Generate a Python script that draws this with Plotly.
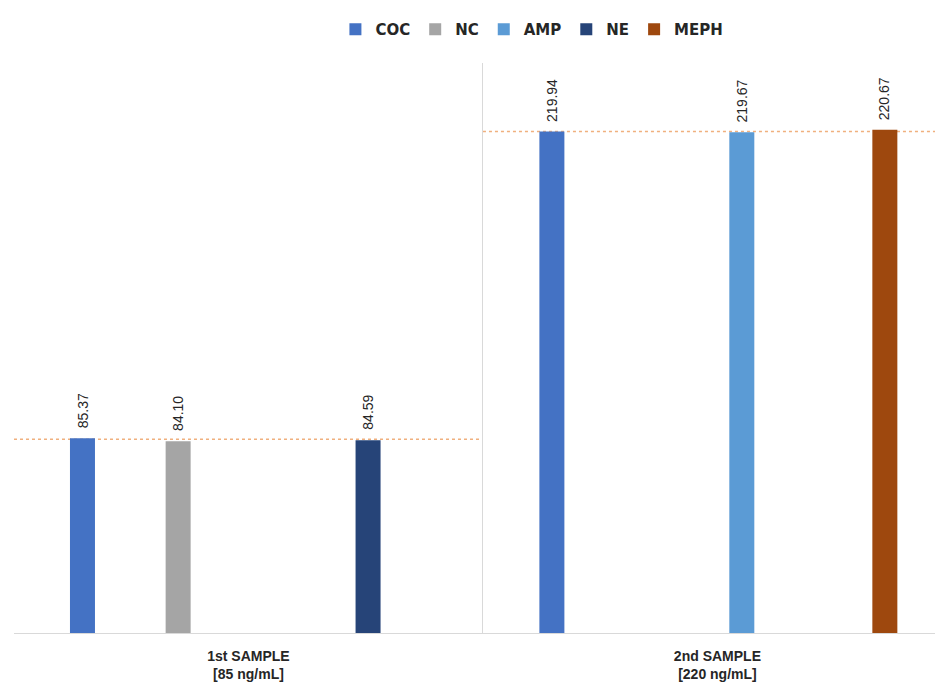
import plotly.graph_objects as go

categories = ["1st SAMPLE<br>[85 ng/mL]", "2nd SAMPLE<br>[220 ng/mL]"]
targets = [85, 220]
series_names = ["COC", "NC", "AMP", "NE", "MEPH"]
coc = [85.37, 219.94]
nc = [84.10, None]
amp = [None, 219.67]
ne = [84.59, None]
meph = [None, 220.67]

values = [coc, nc, amp, ne, meph]
colors = ["#4472C4", "#A5A5A5", "#5B9BD5", "#264478", "#9E480E"]
# bar centre positions relative to category centre (category units)
centres = [[-0.354, -0.353], [-0.150, -0.150], [0.052, 0.052], [0.255, 0.255], [0.357, 0.357]]
bw = 0.0533

x_range = [-0.5, 1.481]

fig = go.Figure()
annotations = []
for name, vals, col, cen in zip(series_names, values, colors, centres):
    fig.add_trace(go.Bar(
        name=name,
        x=categories,
        y=vals,
        marker=dict(color=col, line=dict(width=0)),
        width=bw,
        offset=[c - bw / 2 for c in cen],
    ))
    for i, v in enumerate(vals):
        if v is None:
            continue
        annotations.append(dict(
            x=i + cen[i], y=v, xref="x", yref="y",
            text="%.2f" % v, showarrow=False, textangle=-90,
            yanchor="bottom", xanchor="center", yshift=8,
            font=dict(family="Liberation Sans, Arial, sans-serif", size=14, color="#262626"),
        ))

shapes = []
for i, t in enumerate(targets):
    shapes.append(dict(
        type="line", xref="x", yref="y",
        x0=i - 0.5, x1=min(i + 0.5, x_range[1]), y0=t, y1=t,
        line=dict(color="#F0B07E", width=1.5, dash="dot"),
        layer="below",
    ))

# page body has an 8px margin, so the figure is sized to the remaining window
fig.update_layout(
    width=935, height=676,
    margin=dict(l=6, r=0, t=55, b=51, autoexpand=False),
    paper_bgcolor="white", plot_bgcolor="white",
    barmode="overlay",
    showlegend=True,
    legend=dict(
        orientation="h", x=0.5575, xanchor="center", y=1.03, yanchor="bottom",
        font=dict(family="DejaVu Sans, sans-serif", size=15, color="#262626", weight="bold"),
        itemwidth=30, traceorder="normal",
    ),
    shapes=shapes,
    annotations=annotations,
    xaxis=dict(
        type="category", range=x_range,
        tickson="boundaries", showgrid=True, gridcolor="#D9D9D9", gridwidth=1,
        showline=True, linecolor="#D9D9D9", linewidth=1,
        ticks="", ticklabelstandoff=10,
        tickfont=dict(family="Liberation Sans, Arial, sans-serif", size=14, color="#262626", weight="bold"),
    ),
    yaxis=dict(
        range=[0, 250], showgrid=False, zeroline=False, showticklabels=False, showline=False,
    ),
)

fig.write_html("out.html")
